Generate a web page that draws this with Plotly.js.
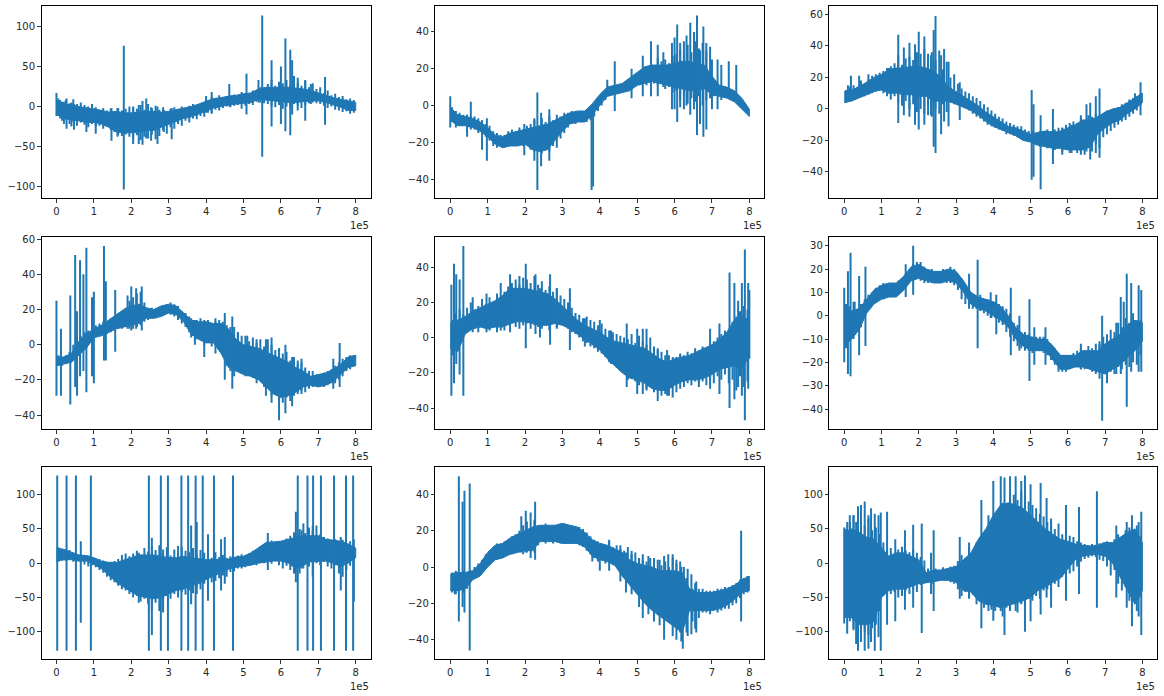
<!DOCTYPE html>
<html>
<head>
<meta charset="utf-8">
<script src="https://cdn.plot.ly/plotly-3.0.1.min.js"></script>
<style>
body { margin: 0; background: white; }
</style>
</head>
<body>
<div id="grafica"></div>
<script>
// x in units of 1e5, the dense band of each signal is read every 0.2
const sampleX = [0,.2,.4,.6,.8,1,1.2,1.4,1.6,1.8,2,2.2,2.4,2.6,2.8,3,3.2,3.4,3.6,3.8,4,4.2,4.4,4.6,4.8,5,5.2,5.4,5.6,5.8,6,6.2,6.4,6.6,6.8,7,7.2,7.4,7.6,7.8,8];
// the jagged edge around the band is read every 0.1
const fringeX = [.05,.15,.25,.35,.45,.55,.65,.75,.85,.95,1.05,1.15,1.25,1.35,1.45,1.55,1.65,1.75,1.85,1.95,2.05,2.15,2.25,2.35,2.45,2.55,2.65,2.75,2.85,2.95,3.05,3.15,3.25,3.35,3.45,3.55,3.65,3.75,3.85,3.95,4.05,4.15,4.25,4.35,4.45,4.55,4.65,4.75,4.85,4.95,5.05,5.15,5.25,5.35,5.45,5.55,5.65,5.75,5.85,5.95,6.05,6.15,6.25,6.35,6.45,6.55,6.65,6.75,6.85,6.95,7.05,7.15,7.25,7.35,7.45,7.55,7.65,7.75,7.85,7.95];
const xTicks = [0,1,2,3,4,5,6,7,8];

// panel 1
const up1 = [8,3,2,0,-2,-3,-5,-7,-6,-8,-8,-7,-6,-6,-7,-6,-4,-2,0,3,7,10,11,13,14,16,17,22,24,24,24,24,23,22,20,17,14,11,9,7,5];
const low1 = [-10,-15,-17,-18,-20,-20,-22,-26,-32,-33,-33,-32,-30,-30,-26,-22,-19,-15,-13,-10,-6,-2,0,2,3,4,5,9,8,7,6,5,5,6,7,7,5,2,-1,-5,-5];
const fringeUp1 = [10,6,8,4,9,3,5,2,0,3, -1,-4,-2,-5,-3,-6,-2,-5,-3,0, 0,-3,2,-4,3,-2,1,-4,-1,-6, -3,-1,-4,0,-2,1,3,0,2,5, 6,12,9,14,10,13,11,15,12,18, 17,15,20,18,24,22,28,33,26,31, 29,33,27,38,30,26,32,24,29,22, 24,17,20,14,16,12,13,9,10,8];
const fringeLow1 = [-12,-18,-16,-22,-19,-24,-20,-23,-26,-22, -25,-24,-28,-25,-29,-32,-36,-37,-35,-38, -40,-36,-42,-38,-40,-35,-41,-37,-30,-34, -26,-28,-22,-24,-18,-20,-15,-16,-12,-13, -8,-9,-4,-5,-2,0,-1,1,2,-3, 1,3,2,6,5,4,3,0,-1,2, -3,0,-2,3,1,-2,2,4,5,4, 3,1,-2,0,-4,-5,-7,-6,-9,-8];
const spikeX1 = [0,.1,.2,.27,.4,.47,.8,1.05,1.47,1.63,1.8,2.05,2.2,2.3,2.4,2.53,2.7,2.87,3.08,4,4.15,4.62,5.08,5.4,5.5,5.75,6,6.12,6.25,6.3,6.45,6.65,6.8,7.18];
const spikeLow1 = [-12,-15,-22,-28,-25,-29,-32,-34,-43,-38,-104,-47,-47,-48,-40,-43,-47,-32,-41,-8,-8,0,-10,5,-63,-25,-22,-31,-36,-10,-5,-18,3,-23];
const spikeUp1 = [17,8,6,10,5,3,-1,-3,-2,-2,76,-1,2,7,10,-1,0,-4,-2,13,18,28,41,33,114,58,50,85,71,58,36,33,28,37];

// panel 2
const up2 = [-1,-5,-6,-7,-9,-12,-16,-17,-15,-14,-13,-12,-11,-10,-8,-6,-4,-3,-3,1,6,10,11,12,15,18,21,22,22,22,23,24,24,23,22,16,11,10,8,4,-2];
const low2 = [-8,-11,-11,-12,-14,-17,-21,-23,-22,-22,-21,-24,-25,-24,-19,-14,-10,-9,-9,-5,0,5,6,7,8,11,12,13,12,11,10,9,8,8,9,6,5,4,2,-2,-6];
const fringeUp2 = [-1,-3,-4,-5,-5,-6,-6,-7,-8,-10, -11,-14,-15,-16,-16,-14,-13,-14,-12,-13, -11,-10,-8,-11,-7,-9,-6,-8,-5,-6, -4,-4,-3,-4,-3,-3,-2,-1,1,3, 5,7,9,10,11,10,12,11,13,14, 16,17,20,22,21,26,24,25,23,27, 28,30,27,33,29,35,31,34,30,32, 11,12,10,9,8,7,6,4,1,-2];
const fringeLow2 = [-9,-12,-11,-11,-12,-13,-13,-15,-15,-17, -19,-22,-23,-22,-23,-22,-21,-22,-21,-22, -21,-24,-25,-22,-26,-24,-25,-22,-23,-18, -15,-12,-10,-10,-9,-9,-9,-8,-6,-3, 0,3,5,6,7,7,8,8,10,10, 11,12,11,14,12,11,13,9,10,7, 8,3,6,1,4,2,5,0,3,4, 5,6,7,5,5,4,3,2,0,-3];
const spikeX2 = [0,.45,.55,.85,.98,1.98,2.25,2.33,2.43,2.65,3.78,3.82,4.2,4.4,4.85,5.15,5.37,5.55,5.7,5.93,6,6.07,6.15,6.25,6.32,6.42,6.52,6.6,6.68,6.77,6.85,7,7.15,7.25,7.45,7.65];
const spikeLow2 = [-12,-17,-12,-24,-30,-27,-30,-46,-33,-30,-46,-44,5,-3,4,5,5,5,10,-2,-2,-9,-1,-2,0,-5,-2,-16,-10,-17,-13,-2,-2,3,4,3];
const spikeUp2 = [5,-5,2,-8,-7,-10,-7,7,-4,-2,-3,-3,14,24,20,27,35,33,29,34,37,44,34,35,38,45,40,49,30,43,34,25,25,22,24,22];

// panel 3
const up3 = [11,12,14,17,20,22,25,26,26,27,27,26,24,20,14,11,8,5,2,-2,-5,-8,-11,-12,-14,-16,-15,-14,-15,-14,-12,-10,-7,-7,-5,-2,0,1,4,7,10];
const low3 = [4,5,7,9,11,12,10,10,9,9,8,8,5,5,5,3,1,-1,-4,-8,-11,-13,-15,-17,-20,-21,-23,-24,-25,-25,-26,-26,-26,-24,-16,-12,-9,-7,-3,0,4];
const fringeUp3 = [12,14,15,14,18,16,19,21,22,23, 24,26,27,29,34,28,32,33,31,36, 35,38,33,36,31,37,25,30,20,22, 16,13,11,10,8,7,5,3,1,-1, -3,-5,-6,-8,-9,-10,-11,-11,-13,-14, -14,-15,-14,-14,-13,-14,-13,-12,-12,-10, -9,-8,-9,-6,-7,-4,-5,-3,-4,-3, -1,-1,0,1,3,4,6,7,8,10];
const fringeLow3 = [4,6,6,8,9,8,11,10,12,12, 10,8,6,8,4,2,5,0,3,-2, 0,-3,2,-5,0,-3,3,-2,4,3, 3,2,1,-1,-3,-5,-6,-8,-10,-11, -12,-13,-14,-16,-16,-17,-18,-19,-20,-21, -22,-23,-24,-22,-25,-23,-26,-25,-27,-25, -28,-26,-28,-27,-29,-25,-27,-22,-25,-18, -16,-14,-12,-10,-8,-7,-5,-3,-1,2];
const spikeX3 = [.1,.18,.4,.65,1.2,1.45,1.6,1.75,1.9,2,2.15,2.25,2.33,2.4,2.45,2.6,2.68,2.8,3.1,5.03,5.08,5.27,5.6,5.85,6.1,6.35,6.5,6.6,6.75,6.85,7.8,7.95];
const spikeLow3 = [5,6,7,9,10,-9,-4,-5,-10,-13,-10,-4,-4,-24,-28,-16,-8,-11,-7,-45,-43,-51,-35,-29,-28,-29,-27,-32,-28,-31,0,-4];
const spikeUp3 = [15,21,21,22,26,47,39,42,41,49,46,35,34,50,59,34,38,30,17,12,3,-4,0,-12,-10,-4,3,4,8,13,10,17];

// panel 4
const up4 = [-7,-7,-5,2,6,9,11,14,17,20,22,23,21,20,22,23,22,18,14,13,13,12,12,9,3,0,-1,-2,-4,-6,-8,-10,-13,-15,-18,-17,-16,-14,-11,-7,-6];
const low4 = [-12,-11,-10,-6,-2,4,5,7,9,10,11,12,15,15,16,18,17,13,6,3,1,1,-5,-13,-15,-17,-18,-20,-24,-28,-30,-29,-27,-24,-23,-24,-23,-21,-17,-13,-12];
const fringeUp4 = [-6,-7,-6,-4,0,3,5,7,8,10, 11,12,13,13,15,16,18,19,21,25, 27,29,30,24,20,21,20,21,22,23, 24,23,22,19,18,16,14,14,15,12, 14,12,13,14,13,11,10,10,7,5, 5,2,4,1,3,-1,3,0,-3,-2, -5,-4,-9,-7,-11,-10,-13,-15,-15,-17, -17,-16,-15,-14,-12,-10,-8,-7,-6,-6];
const fringeLow4 = [-12,-12,-11,-10,-8,-6,-4,-1,0,2, 4,5,6,6,7,8,9,9,10,9, 9,10,11,13,14,15,15,16,17,18, 17,16,14,12,10,7,5,3,4,0, 2,-1,1,-2,-4,-12,-15,-18,-14,-16, -18,-17,-19,-22,-20,-24,-22,-29,-27,-31, -33,-30,-32,-29,-27,-26,-27,-25,-24,-22, -23,-24,-23,-22,-22,-20,-18,-15,-14,-12];
const spikeX4 = [0,.12,.37,.5,.55,.63,.72,.8,.95,1,1.27,1.32,1.57,1.9,2,2.13,2.28,3.6,3.7,3.95,4.25,4.5,4.7,4.85,5.1,5.35,5.6,5.75,5.95,6.12,6.3,6.45,6.55,7.4,7.57];
const spikeLow4 = [-29,-29,-34,-24,-29,-18,-15,-27,-18,-22,-9,-9,-4,9,8,9,8,4,0,-7,-5,-20,-25,-14,-18,-18,-29,-33,-43,-39,-35,-28,-28,-25,-24];
const spikeUp4 = [25,9,28,51,19,48,40,55,27,30,56,36,31,28,33,32,33,15,14,14,15,18,16,7,5,3,3,4,-2,0,-7,-9,-8,-8,1];

// panel 5
const up5 = [8,10,12,15,17,19,21,24,28,28,28,27,26,25,22,18,14,10,7,5,3,0,-2,-3,-4,-5,-6,-9,-12,-14,-12,-11,-10,-8,-6,-4,-1,3,10,12,10];
const low5 = [-6,-8,2,5,6,5,6,6,8,9,9,8,7,7,8,7,5,2,-1,-4,-7,-12,-16,-20,-23,-24,-26,-29,-30,-30,-27,-25,-24,-24,-23,-21,-18,-17,-16,-18,-10];
const fringeUp5 = [10,14,16,13,17,20,16,18,22,19, 23,20,24,22,26,29,31,33,30,34, 33,31,35,30,32,27,29,26,28,24, 22,20,17,14,13,11,12,10,9,7, 8,5,4,3,2,1,0,-1,2,-3, 1,-2,-4,0,-5,-7,-8,-10,-10,-11, -11,-9,-10,-8,-9,-6,-7,-5,-6,-4, -2,0,2,4,5,9,12,15,18,16];
const fringeLow5 = [-10,-6,3,4,6,7,5,3,6,5, 4,6,5,7,4,7,8,6,10,7, 8,5,7,6,5,7,4,8,6,9, 7,5,3,2,0,-2,-3,-5,-6,-8, -9,-11,-14,-15,-17,-19,-20,-24,-22,-25, -27,-26,-29,-28,-31,-30,-33,-32,-33,-34, -31,-29,-28,-26,-27,-25,-26,-25,-27,-24, -26,-22,-24,-21,-26,-24,-30,-22,-28,-25];
const spikeX5 = [.03,.1,.16,.25,.35,.6,.97,1.25,1.35,1.6,1.85,2.02,2.28,2.4,2.67,2.85,3.2,3.6,4,4.3,4.72,5,5.15,5.25,5.55,5.8,6.15,6.65,6.95,7.2,7.47,7.6,7.7,7.8,7.88,7.97,8];
const spikeLow5 = [-33,-26,-15,-21,-33,3,3,3,4,3,5,-6,2,0,-4,5,-7,-5,-5,-15,-28,-32,-32,-30,-36,-33,-25,-28,-29,-32,-40,-35,-28,-33,-47,-29,-12];
const spikeUp5 = [30,42,36,33,52,23,25,25,31,36,35,42,36,28,36,28,28,11,10,4,8,5,5,5,-6,-7,-10,-9,5,8,37,31,21,31,50,31,27];

// panel 6
const up6 = [4,2,3,7,11,13,14,14,17,21,22,20,19,19,20,19,15,10,8,7,6,4,0,-5,-8,-9,-10,-10,-13,-17,-17,-17,-15,-15,-15,-12,-10,-8,-4,-2,-3];
const low6 = [-13,-10,-6,1,5,7,8,8,11,15,16,15,14,14,15,14,10,5,3,2,0,-2,-5,-10,-13,-15,-15,-15,-19,-23,-23,-22,-22,-23,-24,-25,-23,-21,-18,-15,-11];
const fringeUp6 = [5,4,6,3,5,7,9,10,12,13, 14,13,14,13,15,15,18,20,22,23, 23,21,20,20,19,19,20,19,21,20, 18,16,13,10,9,8,9,7,7,6, 6,5,4,3,1,-3,-4,-7,-7,-8, -9,-9,-9,-9,-10,-12,-14,-16,-17,-17, -17,-16,-15,-14,-15,-13,-14,-12,-11,-9, -8,-6,-7,-3,-5,-1,-3,1,-2,-2];
const fringeLow6 = [-14,-11,-10,-7,-5,0,3,5,6,7, 7,8,8,8,9,11,12,15,15,16, 15,14,14,14,14,15,15,14,14,13, 11,7,5,4,3,3,2,1,0,-1, -1,-3,-4,-7,-9,-11,-13,-14,-15,-15, -16,-15,-15,-16,-17,-19,-21,-24,-24,-24, -23,-22,-22,-23,-23,-22,-24,-25,-24,-25, -26,-24,-25,-22,-23,-21,-22,-20,-21,-17];
const spikeX6 = [0,.1,.17,.28,.4,.57,1.65,1.85,3.35,3.58,3.93,4.08,4.47,4.7,4.97,5.1,5.4,6.35,6.85,6.92,7.05,7.3,7.42,7.5,7.58,7.7,7.9,7.97];
const spikeLow6 = [-20,-25,-26,-8,-17,-13,8,9,3,-14,-1,-8,-17,-15,-28,-21,-21,-23,-27,-45,-29,-25,-25,-10,-39,-24,-24,-24];
const spikeUp6 = [12,19,27,6,17,21,22,30,18,24,10,9,12,0,7,-5,-5,-12,-12,0,-10,-3,8,6,18,14,13,11];

// panel 7
const up7 = [22,20,16,12,11,8,3,1,1,4,8,12,12,12,10,8,8,10,8,6,5,5,5,6,9,10,15,22,30,31,32,35,38,40,40,40,35,33,32,28,22];
const low7 = [3,5,5,3,3,-2,-8,-18,-28,-35,-42,-48,-50,-52,-50,-45,-40,-38,-33,-30,-24,-18,-14,-9,-6,-4,-3,0,2,3,3,0,-8,-3,2,3,3,0,-5,0,8];
const fringeUp7 = [23,21,20,19,15,13,12,12,11,9, 7,6,4,2,2,3,6,12,14,10, 14,18,12,22,17,25,19,26,15,23, 11,20,14,24,18,16,22,12,19,15, 14,8,16,9,12,8,10,9,11,13, 11,14,18,17,24,28,32,33,31,32, 31,36,40,45,42,48,44,52,47,55, 42,38,36,33,35,30,34,28,32,23];
const fringeLow7 = [2,4,3,5,2,3,1,-2,-5,-3, -6,-10,-14,-20,-25,-28,-33,-38,-40,-45, -50,-48,-56,-52,-60,-68,-58,-70,-55,-48, -52,-45,-50,-42,-46,-40,-44,-34,-38,-30, -33,-28,-26,-22,-18,-20,-13,-12,-8,-8, -6,-4,-2,-3,1,0,2,-1,3,-3, -8,-4,-10,-15,-5,-8,-2,-5,1,0, -3,2,-5,-8,-3,-15,-20,-10,-4,4];
const spikeX7 = [.02,.27,.52,.92,2.47,2.79,2.98,3.34,3.52,3.72,3.91,4.21,4.72,6.45,6.71,6.86,7.07,7.42,7.74,7.93,.65,2.2,2.55,2.85,3.25,3.6,3.75,4.05,4.4,4.5,5.65,6.4,6.5,6.6,6.85,7.6,7.95];
const spikeLow7 = [-128,-128,-128,-128,-128,-128,-128,-128,-128,-128,-128,-128,-128,-128,-128,-128,-128,-128,-128,-128,-87,-58,-105,-72,-40,-60,-45,-55,-40,-30,-10,-28,-15,-8,-20,-40,-56];
const spikeUp7 = [128,128,128,128,128,128,128,128,128,128,128,128,128,128,128,128,128,128,128,128,32,15,37,20,25,55,60,42,35,38,44,75,50,58,55,38,35];

// panel 8
const up8 = [-4,-3,-3,-2,2,8,12,13,16,18,20,22,23,23,23,24,23,22,19,15,13,12,10,8,4,2,1,0,-2,-2,-2,-3,-12,-14,-14,-14,-13,-12,-10,-7,-5];
const low8 = [-13,-13,-12,-7,-5,0,4,5,7,8,9,9,14,14,14,13,13,13,11,6,4,3,1,-5,-10,-15,-20,-24,-27,-30,-33,-36,-24,-24,-24,-24,-23,-21,-18,-14,-13];
const fringeUp8 = [-3,-2,-3,-2,-3,-2,0,2,4,7, 9,11,13,13,14,15,17,18,20,23, 25,21,26,23,23,24,22,23,23,24, 24,23,23,22,22,21,19,17,15,14, 13,12,14,11,12,10,9,11,7,8, 5,4,3,5,2,4,1,3,0,5, 2,3,0,-1,-4,-9,-12,-12,-13,-13, -13,-12,-12,-11,-11,-10,-9,-7,-6,-5];
const fringeLow8 = [-14,-15,-13,-14,-12,-8,-6,-5,-3,-1, 1,3,4,6,6,7,7,8,9,7, 8,9,8,12,14,13,14,13,14,13, 13,13,13,14,12,11,9,7,5,3, 4,2,3,1,0,-2,-4,-6,-8,-12, -14,-16,-19,-21,-24,-22,-26,-28,-27,-31, -33,-36,-32,-38,-37,-34,-28,-25,-25,-26, -24,-25,-24,-23,-23,-21,-20,-17,-15,-14];
const spikeX8 = [.12,.23,.33,.38,.52,1.9,2.02,2.15,2.27,3.8,4,4.25,4.55,4.7,4.85,5.05,5.15,5.3,5.45,5.6,5.72,5.83,5.95,6.05,6.18,6.22,6.32,6.48,6.58,7.78];
const spikeLow8 = [-15,-30,-22,-25,-46,8,8,5,4,3,-2,-2,-8,-14,-15,-22,-28,-26,-30,-32,-40,-30,-38,-40,-41,-45,-36,-30,-36,-30];
const spikeUp8 = [-3,50,36,42,46,28,31,30,36,10,10,15,12,8,9,5,7,6,5,4,6,7,7,4,0,-3,-6,-12,-8,20];

// panel 9
const up9 = [45,50,45,38,35,22,10,15,15,10,5,-14,-10,-10,-8,-5,5,15,35,50,70,85,88,85,80,70,60,50,42,35,32,28,26,25,26,30,30,38,45,50,30];
const low9 = [-78,-80,-90,-90,-85,-50,-40,-38,-38,-34,-30,-29,-27,-25,-25,-28,-40,-42,-55,-60,-62,-65,-62,-58,-55,-50,-40,-35,-28,-22,-8,5,10,12,13,10,0,-20,-40,-60,-40];
const fringeUp9 = [50,60,70,58,62,55,65,48,52,42, 30,18,22,14,20,24,18,16,20,15, 9,4,-8,-12,-8,-11,-6,-9,-5,-4, 3,12,8,22,15,30,28,42,38,50, 62,70,88,82,95,100,92,105,98,90, 85,80,72,68,60,65,50,58,42,48, 40,38,32,30,28,26,28,27,29,30, 32,28,35,42,38,48,52,45,55,40];
const fringeLow9 = [-80,-85,-98,-105,-95,-100,-105,-95,-90,-70, -48,-55,-45,-42,-50,-48,-40,-45,-38,-42, -32,-30,-28,-30,-27,-26,-25,-26,-28,-30, -38,-48,-42,-52,-46,-60,-52,-65,-60,-68, -70,-62,-78,-65,-70,-60,-72,-58,-66,-52, -55,-48,-52,-40,-38,-45,-30,-35,-20,-28, -15,-12,-5,2,6,8,10,9,5,3, -5,-18,-10,-30,-40,-35,-55,-48,-70,-50];
const spikeX9 = [0,.08,.15,.25,.32,.37,.45,.55,.65,.72,.82,.92,.98,1.15,1.37,1.63,1.85,2.08,2.33,2.4,3.1,3.35,3.68,3.87,4,4.2,4.3,4.45,4.6,4.75,4.85,5,5.27,5.43,5.55,5.95,6.3,6.78,7.3,7.58,7.72,7.9,7.97];
const spikeLow9 = [-88,-103,-80,-95,-118,-128,-115,-128,-125,-115,-128,-108,-128,-90,-85,-68,-65,-102,-45,-70,-52,-50,-95,-70,-84,-70,-105,-65,-70,-60,-100,-85,-75,-50,-65,-55,-45,-65,-50,-65,-92,-78,-105];
const spikeUp9 = [52,60,70,70,60,83,85,90,70,80,72,70,74,75,35,48,56,58,15,48,38,30,92,70,120,127,125,127,127,120,128,115,117,95,60,85,82,105,55,60,70,60,75];

const bandsUp = [up1,up2,up3,up4,up5,up6,up7,up8,up9];
const bandsLow = [low1,low2,low3,low4,low5,low6,low7,low8,low9];
const fringesUp = [fringeUp1,fringeUp2,fringeUp3,fringeUp4,fringeUp5,fringeUp6,fringeUp7,fringeUp8,fringeUp9];
const fringesLow = [fringeLow1,fringeLow2,fringeLow3,fringeLow4,fringeLow5,fringeLow6,fringeLow7,fringeLow8,fringeLow9];
const spikesX = [spikeX1,spikeX2,spikeX3,spikeX4,spikeX5,spikeX6,spikeX7,spikeX8,spikeX9];
const spikesLow = [spikeLow1,spikeLow2,spikeLow3,spikeLow4,spikeLow5,spikeLow6,spikeLow7,spikeLow8,spikeLow9];
const spikesUp = [spikeUp1,spikeUp2,spikeUp3,spikeUp4,spikeUp5,spikeUp6,spikeUp7,spikeUp8,spikeUp9];

const yRanges = [[-114.6,125.8],[-50.3,54.1],[-56.5,65.3],[-48.1,61],[-52.1,57],[-48.7,33.6],[-140.4,139.9],[-50.8,54.9],[-140.4,139.9]];
const yTicks = [
    [-100,-50,0,50,100],[-40,-20,0,20,40],[-40,-20,0,20,40,60],
    [-40,-20,0,20,40,60],[-40,-20,0,20,40],[-40,-30,-20,-10,0,10,20,30],
    [-100,-50,0,50,100],[-40,-20,0,20,40],[-100,-50,0,50,100]
];

const WIDTH = 1164, HEIGHT = 696;
const colLeft = [41.5,435.3,829.3], colRight = [370.7,764.3,1157.3];
const rowTop = [6,237.3,467.3], rowBottom = [198,429.3,659.3];
const BLUE = "#1f77b4";

const traces = [];
const layout = {
    width: WIDTH,
    height: HEIGHT,
    margin: { l: 0, r: 0, t: 0, b: 0 },
    paper_bgcolor: "white",
    plot_bgcolor: "white",
    showlegend: false,
    font: { family: "DejaVu Sans", size: 10, color: "#262626" },
    annotations: []
};

for (let i = 0; i < 9; i++) {
    const col = i % 3, row = Math.floor(i / 3);
    const sufijo = i === 0 ? "" : String(i + 1);

    // dense band as a closed polygon
    traces.push({
        x: sampleX.concat(sampleX.slice().reverse()),
        y: bandsUp[i].concat(bandsLow[i].slice().reverse()),
        xaxis: "x" + sufijo,
        yaxis: "y" + sufijo,
        mode: "lines",
        fill: "toself",
        fillcolor: BLUE,
        line: { color: BLUE, width: 1 },
        hoverinfo: "skip"
    });

    // jagged edge and isolated spikes as vertical strokes
    const sx = [], sy = [];
    fringeX.forEach((x, k) => {
        sx.push(x, x, null);
        sy.push(fringesLow[i][k], fringesUp[i][k], null);
    });
    spikesX[i].forEach((x, k) => {
        sx.push(x, x, null);
        sy.push(spikesLow[i][k], spikesUp[i][k], null);
    });
    traces.push({
        x: sx,
        y: sy,
        xaxis: "x" + sufijo,
        yaxis: "y" + sufijo,
        mode: "lines",
        line: { color: BLUE, width: 2 },
        connectgaps: false,
        hoverinfo: "skip"
    });

    const ejeComun = {
        showgrid: false,
        zeroline: false,
        showline: true,
        mirror: true,
        linecolor: "black",
        linewidth: 1,
        ticks: "outside",
        ticklen: 3.5,
        tickwidth: 0.8,
        tickcolor: "black",
        tickfont: { family: "DejaVu Sans", size: 10, color: "#262626" }
    };
    layout["xaxis" + sufijo] = Object.assign({}, ejeComun, {
        domain: [colLeft[col] / WIDTH, colRight[col] / WIDTH],
        range: [-0.4, 8.4],
        tickvals: xTicks,
        ticktext: xTicks.map(String),
        anchor: "y" + sufijo
    });
    layout["yaxis" + sufijo] = Object.assign({}, ejeComun, {
        domain: [1 - rowBottom[row] / HEIGHT, 1 - rowTop[row] / HEIGHT],
        range: yRanges[i],
        tickvals: yTicks[i],
        anchor: "x" + sufijo
    });
    layout.annotations.push({
        text: "1e5",
        xref: "x" + sufijo + " domain",
        yref: "y" + sufijo + " domain",
        x: 1,
        y: -0.105,
        xanchor: "right",
        yanchor: "top",
        showarrow: false,
        font: { family: "DejaVu Sans", size: 10, color: "#262626" }
    });
}

Plotly.newPlot("grafica", traces, layout, { displayModeBar: false, staticPlot: true });
</script>
</body>
</html>
